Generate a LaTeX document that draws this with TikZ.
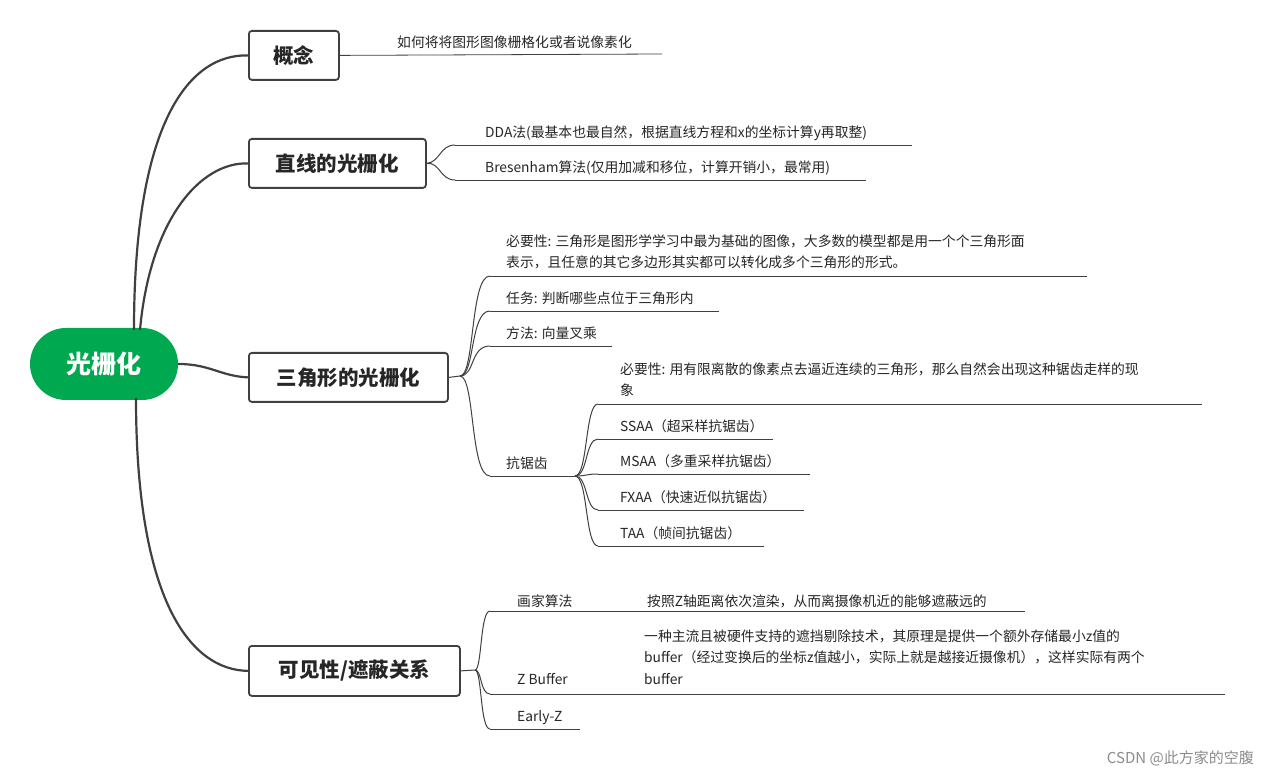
\documentclass[tikz,border=0pt]{standalone}
\usepackage{fontspec}
\setmainfont{Noto Sans CJK SC}
\begin{document}
\begin{tikzpicture}[x=1pt,y=-1pt,
  l1/.style={draw=black!75,line width=1.8pt,rounded corners=3pt,fill=white,inner sep=0pt,anchor=north west},
  l1t/.style={font=\fontsize{20.5}{24}\selectfont\bfseries,text=black!85},
  leaf/.style={anchor=base west,inner sep=0pt,font=\fontsize{13.8}{21.5}\selectfont,text=black!85},
  uline/.style={draw=black!75,line width=0.8pt},
  br/.style={draw=black!75,line width=1pt},
  mb/.style={draw=black!75,line width=2.2pt}]
\useasboundingbox (0,0) rectangle (1270,775);
\fill[white] (0,0) rectangle (1270,775);
\node[fill={rgb,255:red,0;green,168;blue,80},rounded corners=36pt,minimum width=148pt,minimum height=72pt,text=white,font=\fontsize{25}{28}\selectfont\bfseries,inner sep=0pt] (root) at (104,364) {光栅化};
\node[l1,minimum width=90pt,minimum height=49pt] (c1) at (248,30) {};
\node[l1t] (c1t) at (c1.center) {概念};
\node[l1,minimum width=177pt,minimum height=49pt] (c2) at (248,138) {};
\node[l1t] (c2t) at (c2.center) {直线的光栅化};
\node[l1,minimum width=199pt,minimum height=49pt] (c3) at (248,352) {};
\node[l1t] (c3t) at (c3.center) {三角形的光栅化};
\node[l1,minimum width=211pt,minimum height=50pt] (c4) at (248,645) {};
\node[l1t] (c4t) at (c4.center) {可见性/遮蔽关系};
\coordinate (r1) at (134,330);
\coordinate (r2) at (140,330);
\coordinate (r4) at (136,398);
\draw[mb] (r1) .. controls (134,120) and (190,54) .. (c1.west);
\draw[mb] (r2) .. controls (150,220) and (200,162) .. (c2.west);
\draw[mb] (root.east) .. controls (210,364) and (220,376) .. (c3.west);
\draw[mb] (r4) .. controls (136,600) and (190,670) .. (c4.west);
% concept
\coordinate (a1) at (662,54);
\draw[uline] (c1.east) -- (a1);
\node[leaf] (t1) at (397,48) {如何将将图形图像栅格化或者说像素化};
% line
\coordinate (b1) at (455,145); \coordinate (b1e) at (912,145);
\coordinate (b2) at (455,180); \coordinate (b2e) at (866,180);
\draw[br] (c2.east) .. controls (440,162) and (440,145) .. (b1);
\draw[br] (c2.east) .. controls (440,162) and (440,180) .. (b2);
\draw[uline] (b1) -- (b1e); \draw[uline] (b2) -- (b2e);
\node[leaf] (t2) at (485,138) {DDA法(最基本也最自然，根据直线方程和x的坐标计算y再取整)};
\node[leaf] (t3) at (485,173) {Bresenham算法(仅用加减和移位，计算开销小，最常用)};
% triangle
\coordinate (h3) at (460,376);
\draw[br] (c3.east) -- (h3);
\foreach \y/\e/\n in {276/1087/p1,311/719/p2,346/612/p3,476/575/p4}{
  \coordinate (\n) at (490,\y); \coordinate (\n e) at (\e,\y);
  \draw[br] (h3) .. controls (475,376) and (470,\y) .. (\n);
  \draw[uline] (\n) -- (\n e);}
\node[leaf,align=left] (t4) at (506,268) {必要性: 三角形是图形学学习中最为基础的图像，大多数的模型都是用一个个三角形面\\表示，且任意的其它多边形其实都可以转化成多个三角形的形式。};
\node[leaf] (t5) at (506,304) {任务: 判断哪些点位于三角形内};
\node[leaf] (t6) at (506,339) {方法: 向量叉乘};
\node[leaf] (t7) at (506,469) {抗锯齿};
\foreach \y/\e/\n in {404/1202/s1,439/773/s2,474/810/s3,510/804/s4,546/764/s5}{
  \coordinate (\n) at (598,\y); \coordinate (\n e) at (\e,\y);
  \draw[br] (p4e) .. controls (588,476) and (585,\y) .. (\n);
  \draw[uline] (\n) -- (\n e);}
\node[leaf,align=left] (u1) at (620,396) {必要性: 用有限离散的像素点去逼近连续的三角形，那么自然会出现这种锯齿走样的现\\象};
\node[leaf] (u2) at (620,432) {SSAA（超采样抗锯齿）};
\node[leaf] (u3) at (620,467) {MSAA（多重采样抗锯齿）};
\node[leaf] (u4) at (620,503) {FXAA（快速近似抗锯齿）};
\node[leaf] (u5) at (620,539) {TAA（帧间抗锯齿）};
% visibility
\coordinate (h4) at (475,670);
\draw[br] (c4.east) -- (h4);
\foreach \y/\e/\n in {611/1025/v1,694/1225/v2,729/580/v3}{
  \coordinate (\n) at (490,\y); \coordinate (\n e) at (\e,\y);
  \draw[br] (h4) .. controls (482,670) and (480,\y) .. (\n);
  \draw[uline] (\n) -- (\n e);}
\node[leaf] (w1) at (517,606) {画家算法};
\node[leaf] (w2) at (647,606) {按照Z轴距离依次渲染，从而离摄像机近的能够遮蔽远的};
\node[leaf] (w3) at (517,684) {Z Buffer};
\node[leaf,align=left] (w4) at (644,684) {一种主流且被硬件支持的遮挡剔除技术，其原理是提供一个额外存储最小z值的\\buffer（经过变换后的坐标z值越小，实际上就是越接近摄像机），这样实际有两个\\buffer};
\node[leaf] (w5) at (517,721) {Early-Z};
\node[anchor=base east,font=\fontsize{15}{18}\selectfont,text=black!45,inner sep=0pt] (wm) at (1254,763) {CSDN @此方家的空腹};
\end{tikzpicture}
\end{document}
